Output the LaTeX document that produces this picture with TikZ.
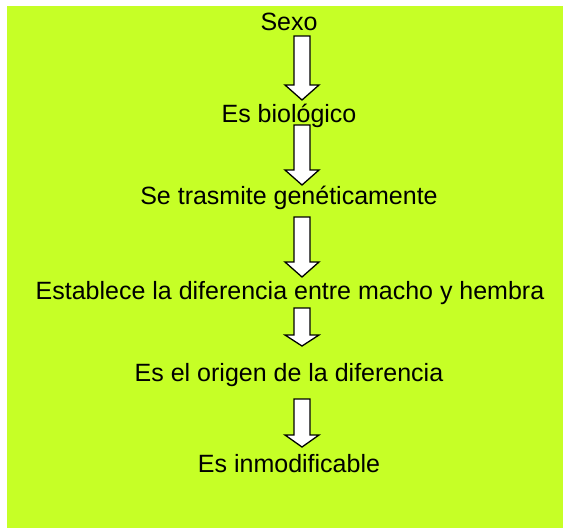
\documentclass[tikz,border=0pt]{standalone}
\usepackage{fontspec}
\setmainfont{Liberation Sans}
\definecolor{limebg}{RGB}{198,255,38}
\tikzset{
  lbl/.style={anchor=base, inner sep=0pt, font=\fontsize{25}{30}\selectfont},
  blockarrow/.style={draw=black, fill=white, line width=1.3pt, line join=miter}
}
\newcommand{\blockarr}[4]{% x, top, base, tip
  \draw[blockarrow] (#1-8,#2) -- (#1+8,#2) -- (#1+8,#3) -- (#1+17,#3) -- (#1,#4) -- (#1-17,#3) -- (#1-8,#3) -- cycle;}
\begin{document}
\begin{tikzpicture}[x=1pt,y=-1pt]
\useasboundingbox (0,0) rectangle (563,528);
\fill[limebg] (7,6) rectangle (563,528);
\node[lbl] (t1) at (289,30.5) {Sexo};
\node[lbl] (t2) at (289,122) {Es biológico};
\node[lbl] (t3) at (289,204) {Se trasmite genéticamente};
\node[lbl] (t4) at (290,299) {Establece la diferencia entre macho y hembra};
\node[lbl] (t5) at (289,381) {Es el origen de la diferencia};
\node[lbl] (t6) at (289,472) {Es inmodificable};
\blockarr{302}{36}{85}{100}
\blockarr{302}{125}{170}{185}
\blockarr{302}{217}{262}{277}
\blockarr{302}{308}{335}{346}
\blockarr{302}{399}{435}{447}
\end{tikzpicture}
\end{document}
